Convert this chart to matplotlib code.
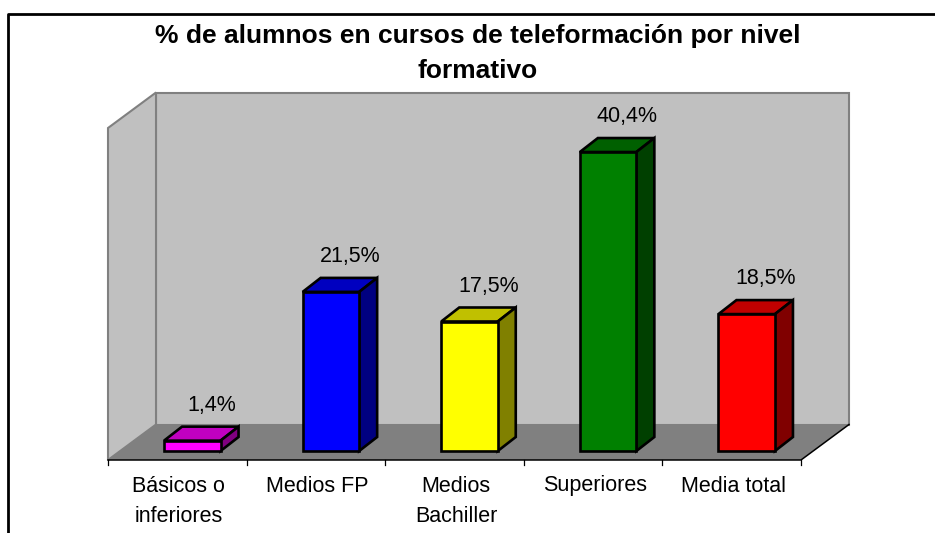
import matplotlib
matplotlib.use('Agg')
import matplotlib.pyplot as plt
from matplotlib.lines import Line2D
from matplotlib.patches import Polygon

categories = ['Básicos o\ninferiores', 'Medios FP', 'Medios\nBachiller', 'Superiores', 'Media total']
values = [1.4, 21.5, 17.5, 40.4, 18.5]
value_labels = ['1,4%', '21,5%', '17,5%', '40,4%', '18,5%']
title_lines = ['% de alumnos en cursos de teleformación por nivel', 'formativo']
front_colors = ['#ff00ff', '#0000ff', '#ffff00', '#008000', '#ff0000']
top_colors = ['#c000c0', '#0000c0', '#c0c000', '#006000', '#c00000']
side_colors = ['#800080', '#000080', '#808000', '#004000', '#800000']

W, H = 935, 533
UX = 138.6  # px per category
UY = 7.4    # px per percent
X0 = 108    # px of left end of the floor front edge
Y0 = 451    # px of value 0 on the bars


def dx(px):
    return px / UX


def dy(px):
    return px / UY


plt.rcParams['font.family'] = ['Liberation Sans', 'DejaVu Sans']
fig = plt.figure(figsize=(W / 100, H / 100), dpi=100)
ax = fig.add_axes([0, 0, 1, 1])
ax.set_xlim(-X0 / UX - 0.5, (W - X0) / UX - 0.5)
ax.set_ylim((Y0 - H) / UY, Y0 / UY)
ax.axis('off')

# walls and floor
left, right = -0.5, 4.5
depth_x, depth_y = dx(48), dy(35.5)
floor = dy(-9)
wall_h = dy(332)
ax.add_patch(Polygon([(left + depth_x, floor + depth_y), (right + depth_x, floor + depth_y),
                      (right + depth_x, floor + depth_y + wall_h), (left + depth_x, floor + depth_y + wall_h)],
                     fc='#c0c0c0', ec='#808080', lw=1.5, zorder=1))
ax.add_patch(Polygon([(left, floor), (left + depth_x, floor + depth_y),
                      (left + depth_x, floor + depth_y + wall_h), (left, floor + wall_h)],
                     fc='#c0c0c0', ec='#808080', lw=1.5, zorder=1))
ax.add_patch(Polygon([(left, floor), (right, floor), (right + depth_x, floor + depth_y), (left + depth_x, floor + depth_y)],
                     fc='#808080', ec='none', zorder=2))
ax.plot([left, right, right + depth_x], [floor, floor, floor + depth_y], color='black', lw=1.1, zorder=3)
for i in range(len(categories) + 1):
    ax.plot([left + i, left + i], [floor, floor + dy(-5)], color='black', lw=0.9, zorder=3)

# bars
bar_w = dx(56.5)
shift = dx(15)
off_x, off_y = dx(18), dy(14)
xs = [i + shift for i in range(len(values))]
ax.bar(xs, values, width=bar_w, color=front_colors, edgecolor='black', linewidth=1.9, zorder=5)
for x, v, tc, sc in zip(xs, values, top_colors, side_colors):
    a, b = x - bar_w / 2, x + bar_w / 2
    ax.add_patch(Polygon([(a, v), (b, v), (b + off_x, v + off_y), (a + off_x, v + off_y)],
                         fc=tc, ec='black', lw=1.9, zorder=4))
    ax.add_patch(Polygon([(b, 0), (b + off_x, off_y), (b + off_x, v + off_y), (b, v)],
                         fc=sc, ec='black', lw=1.9, zorder=4))

# labels
for x, v, s in zip(xs, values, value_labels):
    ax.annotate(s, (x + off_x + dx(1), v), xytext=(0, 25.5), textcoords='offset points',
                ha='center', va='center', fontsize=15.5, color='black', zorder=6)
for i, s in enumerate(categories):
    for j, part in enumerate(s.split('\n')):
        ax.text(i + dx(1.5), floor + dy(-26 - 30 * j), part, ha='center', va='center', fontsize=15.5, color='black')

fig.text(478 / W, 1 - 36 / H, title_lines[0], ha='center', va='center', fontsize=19, fontweight='bold')
fig.text(478 / W, 1 - 71 / H, title_lines[1], ha='center', va='center', fontsize=19, fontweight='bold')

# chart frame, cut at right and bottom
fig.add_artist(Line2D([8 / W, 8 / W, 1], [0, 1 - 14 / H, 1 - 14 / H], color='black', lw=2))

fig.savefig('out.png', dpi=100)
